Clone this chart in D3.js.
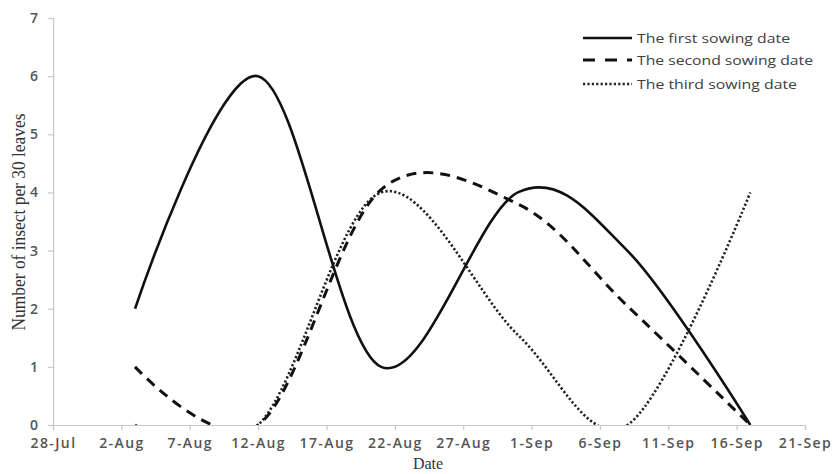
<!DOCTYPE html>
<html>
<head>
<meta charset="utf-8">
<script src="https://cdn.jsdelivr.net/npm/d3@7"></script>
<style>
  html, body { margin: 0; padding: 0; background: #fff; }
  svg { display: block; }
</style>
</head>
<body>
<svg id="chart" width="834" height="474"></svg>
<script>
// ---- data ----
const sampleDates = ["2014-08-03", "2014-08-12", "2014-08-21", "2014-08-31", "2014-09-08", "2014-09-17"];
const firstSowing  = [2, 6, 1, 4.0, 3, 0];
const secondSowing = [1, 0, 4.05, 3.8, 2.05, 0];
const thirdSowing  = [0, 0, 4.0, 1.55, 0, 4];
const seriesNames = ["The first sowing date", "The second sowing date", "The third sowing date"];
const xTickDates = ["2014-07-28", "2014-08-02", "2014-08-07", "2014-08-12", "2014-08-17", "2014-08-22",
                    "2014-08-27", "2014-09-01", "2014-09-06", "2014-09-11", "2014-09-16", "2014-09-21"];
const yTicks = [0, 1, 2, 3, 4, 5, 6, 7];

// ---- layout ----
const svg = d3.select("#chart");
const mLeft = 53, mRight = 805, mTop = 18, mBottom = 425;
const parse = d3.utcParse("%Y-%m-%d");
const x = d3.scaleUtc().domain([parse(xTickDates[0]), parse(xTickDates[xTickDates.length - 1])]).range([mLeft, mRight]);
const y = d3.scaleLinear().domain([0, 7]).range([mBottom, mTop]);

const axisColor = "#c8c8c8";
const labelColor = "#555";

// clip
svg.append("defs").append("clipPath").attr("id", "plot")
  .append("rect").attr("x", mLeft).attr("y", mTop).attr("width", mRight - mLeft + 20).attr("height", mBottom - mTop);

// y axis
const gy = svg.append("g").attr("transform", `translate(${mLeft},0)`)
  .call(d3.axisLeft(y).tickValues(yTicks).tickSize(5).tickPadding(10).tickFormat(d3.format("d")));
gy.select(".domain").attr("stroke", axisColor).attr("stroke-width", 1.2);
gy.selectAll(".tick line").attr("stroke", axisColor).attr("stroke-width", 1.2);
gy.selectAll(".tick text").attr("fill", labelColor).attr("font-family", "Open Sans")
  .attr("font-size", 14).attr("font-weight", 600);

// x axis
const gx = svg.append("g").attr("transform", `translate(0,${mBottom})`)
  .call(d3.axisBottom(x).tickValues(xTickDates.map(parse)).tickSize(5).tickPadding(8)
        .tickFormat(d3.utcFormat("%-d-%b")));
gx.select(".domain").attr("stroke", axisColor).attr("stroke-width", 1.2);
gx.selectAll(".tick line").attr("stroke", axisColor).attr("stroke-width", 1.2);
gx.selectAll(".tick text").attr("fill", labelColor).attr("font-family", "Open Sans")
  .attr("font-size", 14).attr("font-weight", 600).attr("letter-spacing", "1.4px");

// axis titles
svg.append("text")
  .attr("transform", `translate(25,${222}) rotate(-90)`)
  .attr("text-anchor", "middle")
  .attr("font-family", "Liberation Serif").attr("font-size", 19).attr("fill", "#333")
  .attr("textLength", 217).attr("lengthAdjust", "spacingAndGlyphs")
  .text("Number of insect per 30 leaves");
svg.append("text")
  .attr("x", 428).attr("y", 469)
  .attr("text-anchor", "middle")
  .attr("font-family", "Liberation Serif").attr("font-size", 16).attr("fill", "#333")
  .text("Date");

// lines
const seriesValues = [firstSowing, secondSowing, thirdSowing];
const styles = [
  { dash: null, width: 2.6, color: "#111" },
  { dash: "10,7", width: 3, color: "#111" },
  { dash: "2.2,2.2", width: 2.6, color: "#222" }
];
const line = d3.line()
  .x(d => x(d.date)).y(d => y(d.value))
  .curve(d3.curveCardinal.tension(0));

const plot = svg.append("g").attr("clip-path", "url(#plot)");
seriesValues.forEach((vals, i) => {
  const pts = sampleDates.map((d, j) => ({ date: parse(d), value: vals[j] }));
  plot.append("path")
    .datum(pts)
    .attr("d", line)
    .attr("fill", "none")
    .attr("stroke", styles[i].color)
    .attr("stroke-width", styles[i].width)
    .attr("stroke-dasharray", styles[i].dash)
    .attr("stroke-linejoin", "round");
});

// legend
const legendRows = [38, 60, 84];
const legendLengths = [153, 176, 160];
seriesNames.forEach((name, i) => {
  svg.append("line")
    .attr("x1", 583).attr("x2", 632).attr("y1", legendRows[i]).attr("y2", legendRows[i])
    .attr("stroke", styles[i].color)
    .attr("stroke-width", styles[i].width)
    .attr("stroke-dasharray", i === 1 ? "12,10" : styles[i].dash);
  svg.append("text")
    .attr("x", 637).attr("y", legendRows[i]).attr("dy", "0.35em")
    .attr("font-family", "Open Sans").attr("font-size", 13).attr("fill", "#404040")
    .attr("textLength", legendLengths[i]).attr("lengthAdjust", "spacingAndGlyphs")
    .text(name);
});
</script>
</body>
</html>
